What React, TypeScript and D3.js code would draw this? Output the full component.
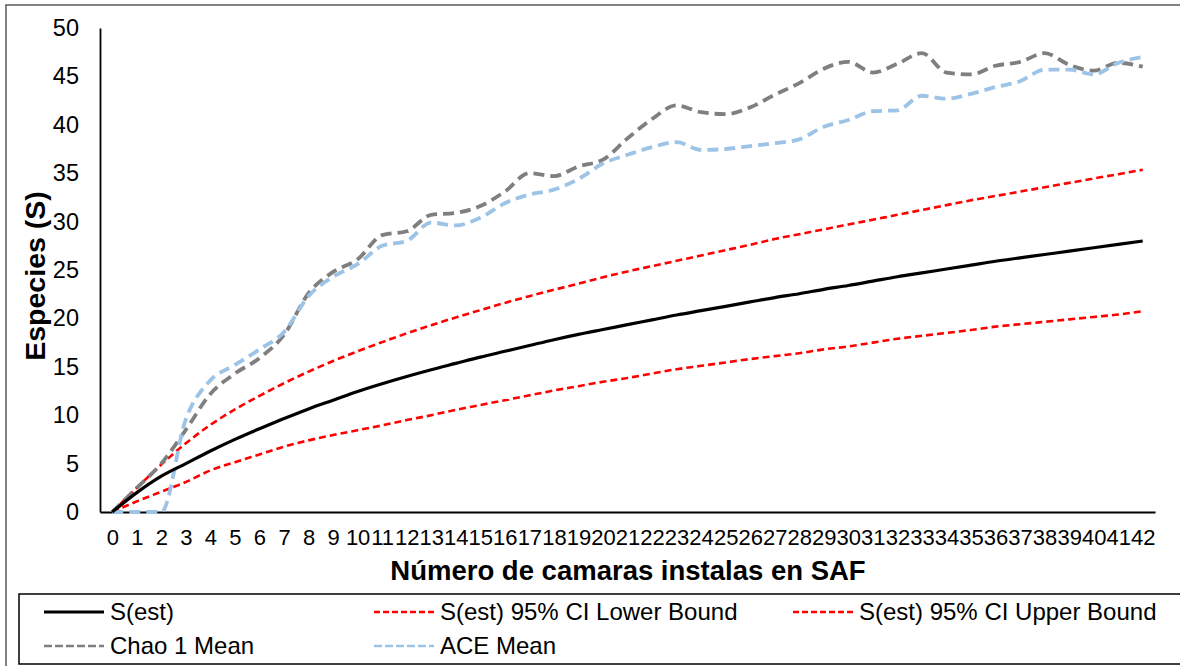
import React, { useEffect, useRef } from 'react'
import * as d3 from 'd3'

// camaras 0..42
const cameras: number[] = d3.range(0, 43)

const sEst: number[] = [0, 2.0, 3.7, 5.0, 6.3, 7.5, 8.6, 9.65, 10.65, 11.55, 12.45, 13.25, 14.0, 14.7, 15.35, 16.0, 16.6, 17.2, 17.8, 18.35, 18.85, 19.35, 19.85, 20.35, 20.8, 21.25, 21.7, 22.15, 22.55, 23.0, 23.4, 23.85, 24.3, 24.7, 25.1, 25.5, 25.9, 26.25, 26.6, 26.95, 27.3, 27.65, 28.0]
const lowerBound: number[] = [0, 1.1, 2.1, 3.1, 4.3, 5.15, 5.95, 6.75, 7.4, 7.95, 8.45, 8.95, 9.5, 10.0, 10.55, 11.05, 11.55, 12.05, 12.55, 13.0, 13.45, 13.85, 14.3, 14.75, 15.1, 15.45, 15.8, 16.1, 16.4, 16.8, 17.1, 17.5, 17.9, 18.2, 18.5, 18.8, 19.15, 19.4, 19.65, 19.9, 20.15, 20.4, 20.75]
const upperBound: number[] = [0, 2.5, 4.9, 7.1, 9.0, 10.6, 12.0, 13.3, 14.5, 15.6, 16.6, 17.55, 18.45, 19.3, 20.1, 20.85, 21.6, 22.3, 22.95, 23.6, 24.25, 24.85, 25.4, 25.95, 26.5, 27.05, 27.6, 28.2, 28.7, 29.2, 29.7, 30.2, 30.7, 31.2, 31.7, 32.2, 32.65, 33.1, 33.55, 34.0, 34.45, 34.9, 35.35]
const chao1: number[] = [0, 2.5, 5.0, 8.5, 12.2, 14.3, 15.9, 18.3, 22.6, 24.8, 26.1, 28.6, 29.0, 30.7, 30.9, 31.6, 33.1, 35.0, 34.7, 35.7, 36.4, 38.6, 40.6, 42.0, 41.3, 41.1, 41.8, 43.1, 44.3, 45.8, 46.5, 45.4, 46.3, 47.4, 45.4, 45.2, 46.1, 46.5, 47.4, 46.2, 45.6, 46.4, 46.0]
const ace: number[] = [0, 0, 0, 9.6, 13.6, 15.2, 16.8, 18.6, 22.3, 24.3, 25.6, 27.5, 28.0, 29.9, 29.6, 30.4, 31.9, 32.8, 33.3, 34.4, 36.0, 36.9, 37.7, 38.2, 37.4, 37.5, 37.8, 38.1, 38.5, 39.8, 40.5, 41.4, 41.5, 43.0, 42.7, 43.2, 43.9, 44.5, 45.7, 45.7, 45.2, 46.4, 47.0]

const yTicks: number[] = [0, 5, 10, 15, 20, 25, 30, 35, 40, 45, 50]

const W = 1180
const H = 666
const FONT = 'Liberation Sans, Arial, sans-serif'

export default function App() {
    const ref = useRef<SVGSVGElement>(null)

    useEffect(() => {
        const svg = d3.select(ref.current)

        const x = d3.scalePoint<number>()
            .domain(cameras)
            .range([100, 1155])
            .padding(0.5)

        const y = d3.scaleLinear()
            .domain([0, 50])
            .range([512, 28])

        // chart border
        svg.append('rect')
            .attr('x', 6).attr('y', 5)
            .attr('width', W).attr('height', H)
            .attr('fill', 'white')
            .attr('stroke', '#595959')
            .attr('stroke-width', 1.5)

        // y axis
        const gY = svg.append('g')
            .attr('transform', 'translate(100,0)')
            .call(d3.axisLeft(y).tickValues(yTicks).tickSize(0).tickSizeOuter(0).tickPadding(21))
        gY.select('.domain').attr('stroke', 'black').attr('stroke-width', 1.8)
        gY.selectAll('text').attr('font-size', 23.5).attr('font-family', FONT).attr('fill', 'black')

        // x axis
        const gX = svg.append('g')
            .attr('transform', 'translate(0,512)')
            .call(d3.axisBottom(x).tickSize(0).tickSizeOuter(0).tickPadding(17))
        gX.select('.domain').attr('stroke', 'black').attr('stroke-width', 1.8)
        gX.selectAll('text').attr('font-size', 22).attr('font-family', FONT).attr('fill', 'black')

        // axis titles
        svg.append('text')
            .attr('x', 628).attr('y', 580)
            .attr('text-anchor', 'middle')
            .attr('font-family', FONT).attr('font-weight', 'bold').attr('font-size', 27.5)
            .text('Número de camaras instalas en SAF')

        svg.append('text')
            .attr('transform', 'translate(45,276) rotate(-90)')
            .attr('text-anchor', 'middle')
            .attr('font-family', FONT).attr('font-weight', 'bold').attr('font-size', 28.5)
            .text('Especies (S)')

        const series = [
            { name: 'S(est) 95% CI Lower Bound', values: lowerBound, color: '#FF0000', width: 2.6, dash: '7,4', legendDash: '6,3' },
            { name: 'S(est) 95% CI Upper Bound', values: upperBound, color: '#FF0000', width: 2.6, dash: '7,4', legendDash: '6,3' },
            { name: 'Chao 1 Mean', values: chao1, color: '#7F7F7F', width: 3.8, dash: '11,6', legendDash: '8,3' },
            { name: 'ACE Mean', values: ace, color: '#9DC3E6', width: 3.8, dash: '11,6', legendDash: '8,3' },
            { name: 'S(est)', values: sEst, color: 'black', width: 3.2, dash: null, legendDash: null },
        ]

        const line = d3.line<number>()
            .x((d, i) => x(cameras[i]) as number)
            .y(d => y(d))
            .curve(d3.curveMonotoneX)

        series.forEach(s => {
            svg.append('path')
                .datum(s.values)
                .attr('d', line)
                .attr('fill', 'none')
                .attr('stroke', s.color)
                .attr('stroke-width', s.width)
                .attr('stroke-dasharray', s.dash)
                .attr('stroke-linejoin', 'round')
        })

        // legend
        svg.append('rect')
            .attr('x', 19).attr('y', 594)
            .attr('width', 1180).attr('height', 70)
            .attr('fill', 'white')
            .attr('stroke', 'black')
            .attr('stroke-width', 1.5)

        const legendItems = [
            { s: series[4], x: 44, y: 612 },
            { s: series[0], x: 374, y: 612 },
            { s: series[1], x: 793, y: 612 },
            { s: series[2], x: 44, y: 646 },
            { s: series[3], x: 374, y: 646 },
        ]

        legendItems.forEach(item => {
            svg.append('line')
                .attr('x1', item.x).attr('x2', item.x + 60)
                .attr('y1', item.y).attr('y2', item.y)
                .attr('stroke', item.s.color)
                .attr('stroke-width', item.s.dash ? 2.6 : 3)
                .attr('stroke-dasharray', item.s.legendDash)
            svg.append('text')
                .attr('x', item.x + 66).attr('y', item.y)
                .attr('dy', '0.35em')
                .attr('font-family', FONT).attr('font-size', 24)
                .text(item.s.name)
        })

        return () => {
            svg.selectAll('*').remove()
        }
    }, [])

    return (
        <svg
            ref={ref}
            width={W}
            height={H}
            style={{ position: 'absolute', left: 0, top: 0, background: 'white' }}
        />
    )
}
